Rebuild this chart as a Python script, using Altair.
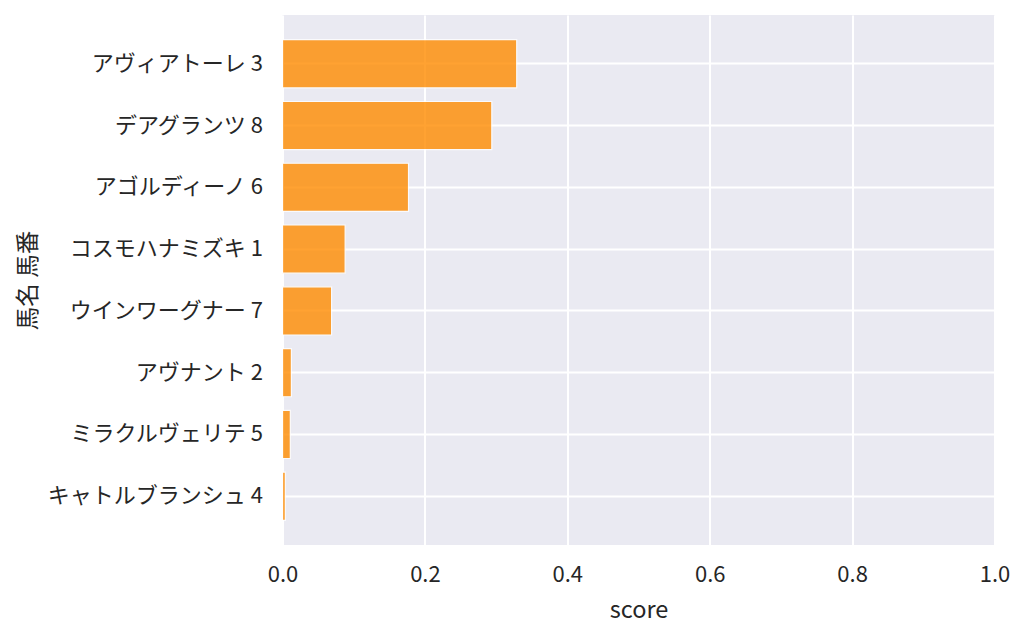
import altair as alt
import pandas as pd

names = ["アヴィアトーレ 3", "デアグランツ 8", "アゴルディーノ 6", "コスモハナミズキ 1",
         "ウインワーグナー 7", "アヴナント 2", "ミラクルヴェリテ 5", "キャトルブランシュ 4"]
scores = [0.329, 0.294, 0.177, 0.088, 0.069, 0.0125, 0.011, 0.004]

df = pd.DataFrame({"name": names, "score": scores})

FONT = "Noto Sans CJK JP"
TXT = "#262626"

chart = alt.Chart(df).mark_bar(
    color="#ff8c00", opacity=0.8, stroke="white", strokeWidth=1.2
).encode(
    x=alt.X("score:Q", title="score",
            scale=alt.Scale(domain=[0, 1], nice=False, zero=True),
            axis=alt.Axis(values=[0, 0.2, 0.4, 0.6, 0.8, 1.0], format=".1f",
                          labelPadding=19, labelFlush=False,
                          titleX=356, titleY=72,
                          titleBaseline="alphabetic", titleAlign="center")),
    y=alt.Y("name:N", title="馬名 馬番", sort=names,
            scale=alt.Scale(paddingInner=0.22, paddingOuter=0.4),
            axis=alt.Axis(bandPosition=0.5, labelPadding=20,
                          titleX=-254, titleY=265, titleAngle=270,
                          titleBaseline="middle", titleAlign="center")),
).properties(
    width=712, height=530,
    autosize=alt.AutoSizeParams(type="none"),
    padding={"left": 274.5, "top": 7, "right": 21, "bottom": 80},
).configure_view(
    fill="#eaeaf2", stroke=None
).configure_axis(
    grid=True, gridColor="white", gridWidth=2, gridOpacity=1,
    domain=False, ticks=False,
    labelFont=FONT, labelFontSize=22, labelColor=TXT,
    titleFont=FONT, titleFontSize=23.5, titleColor=TXT, titleFontWeight="normal",
    labelLimit=400
)

chart.save("out.html", embed_options={"renderer": "svg", "actions": False})
